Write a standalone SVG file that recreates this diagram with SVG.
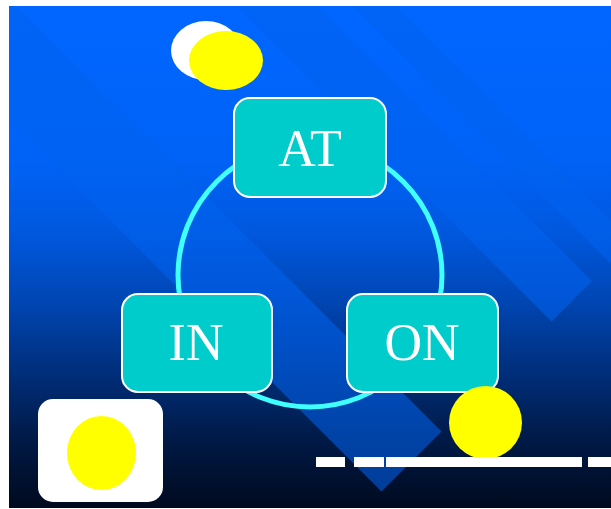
<svg xmlns="http://www.w3.org/2000/svg" width="611" height="509" viewBox="0 0 611 509">
  <defs>
    <linearGradient id="bgGrad" x1="0" y1="6" x2="0" y2="508" gradientUnits="userSpaceOnUse">
      <stop offset="0" stop-color="#0066FF"/>
      <stop offset="0.3" stop-color="#0063F8"/>
      <stop offset="0.45" stop-color="#0058DE"/>
      <stop offset="0.58" stop-color="#0047B6"/>
      <stop offset="0.72" stop-color="#00307E"/>
      <stop offset="0.86" stop-color="#001A48"/>
      <stop offset="1" stop-color="#000A1E"/>
    </linearGradient>
    <clipPath id="panel">
      <rect x="9" y="6" width="602" height="502"/>
    </clipPath>
    <style>
      .band { fill: #0062F0; fill-opacity: 0.57; }
      .box { fill: #00CCCC; stroke: #FFFFFF; stroke-width: 2; }
      .label { font-family: "Liberation Serif", "Times New Roman", serif; font-size: 52px; fill: #FFFFFF; text-anchor: middle; }
      .ring { fill: none; stroke: #3FFFFF; stroke-width: 5; }
      .sun { fill: #FFFF00; }
      .dash { fill: #FFFFFF; }
    </style>
  </defs>

  <!-- backdrop -->
  <rect x="9" y="6" width="602" height="502" fill="url(#bgGrad)"/>

  <!-- diagonal bands -->
  <g clip-path="url(#panel)">
    <polygon class="band" points="-200,-210 441.5,431.5 381.5,491.5 -200,-90"/>
    <polygon class="band" points="0,-311 592,281 551.5,321.5 0,-230"/>
    <polygon class="band" points="100,-290 631.5,241.5 610,263 100,-247"/>
  </g>

  <!-- decorations -->
  <g id="top-ellipses">
    <ellipse cx="206" cy="50.5" rx="35" ry="29.5" fill="#FFFFFF"/>
    <ellipse class="sun" cx="226" cy="60.5" rx="37" ry="29.5"/>
  </g>
  <g id="corner-badge">
    <rect x="38" y="399" width="125" height="103" rx="15" fill="#FFFFFF"/>
    <ellipse class="sun" cx="101.5" cy="453" rx="34.5" ry="37"/>
  </g>

  <!-- connectors -->
  <g id="connectors">
    <circle class="ring" cx="310" cy="275" r="132"/>
  </g>

  <!-- nodes -->
  <g id="node-at">
    <rect class="box" x="234" y="98" width="152" height="99" rx="16"/>
    <text class="label" x="310" y="166">AT</text>
  </g>
  <g id="node-in">
    <rect class="box" x="122" y="294" width="150" height="98" rx="16"/>
    <text class="label" x="196" y="360">IN</text>
  </g>
  <g id="node-on">
    <rect class="box" x="347" y="294" width="151" height="98" rx="16"/>
    <text class="label" x="422" y="360">ON</text>
  </g>

  <g id="sun-right">
    <circle class="sun" cx="485.5" cy="422.5" r="36.5"/>
  </g>

  <!-- dashed rule -->
  <g id="rule">
    <rect class="dash" x="316" y="457" width="29" height="10"/>
    <rect class="dash" x="354" y="457" width="30" height="10"/>
    <rect class="dash" x="386" y="457" width="196" height="10"/>
    <rect class="dash" x="588" y="457" width="23" height="10"/>
  </g>
</svg>
